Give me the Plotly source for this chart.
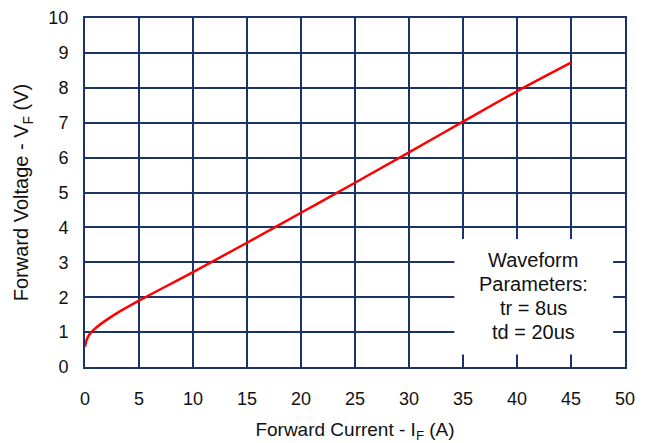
import plotly.graph_objects as go

current_a = [0, 0.1, 0.25, 0.5, 1, 2, 3, 5, 10, 15, 20, 25, 30, 35, 40, 45]
voltage_v = [0.58, 0.72, 0.85, 0.97, 1.12, 1.35, 1.55, 1.9, 2.72, 3.56, 4.42, 5.28, 6.15, 7.03, 7.9, 8.72]
x_ticks = [0, 5, 10, 15, 20, 25, 30, 35, 40, 45, 50]
y_ticks = [0, 1, 2, 3, 4, 5, 6, 7, 8, 9, 10]
note_lines = ["Waveform", "Parameters:", "tr = 8us", "td = 20us"]
note_y = [3.07, 2.37, 1.68, 0.99]

grid = "#1B3468"
font = "Liberation Sans, Arial, sans-serif"

fig = go.Figure()
fig.add_trace(go.Scatter(x=current_a, y=voltage_v, mode="lines",
                         line=dict(color="#FF0000", width=2.5, shape="spline"),
                         showlegend=False, hoverinfo="skip"))

fig.add_shape(type="rect", xref="x", yref="y", x0=34.2, x1=48.9, y0=0.36, y1=3.67,
              fillcolor="white", line=dict(width=0), layer="above")
for txt, yy in zip(note_lines, note_y):
    fig.add_annotation(x=41.5, y=yy, xref="x", yref="y", text=txt, yanchor="middle",
                       showarrow=False, font=dict(family=font, size=20, color="#111111"),
                       align="center")

fig.update_layout(
    width=655, height=443,
    margin=dict(l=85, r=30, t=17.5, b=75.5),
    paper_bgcolor="white", plot_bgcolor="white",
    font=dict(family=font, size=18, color="#111111"),
)
fig.update_xaxes(range=[0, 50], tickvals=x_ticks, showgrid=True, gridcolor=grid, gridwidth=2,
                 showline=True, linecolor=grid, linewidth=2, mirror=True, zeroline=False,
                 ticks="", ticklabelstandoff=14, automargin=False,
                 title=dict(text="Forward Current - I<sub>F</sub> (A)", font=dict(size=19), standoff=16))
fig.update_yaxes(range=[0, 10], tickvals=y_ticks, showgrid=True, gridcolor=grid, gridwidth=2,
                 showline=True, linecolor=grid, linewidth=2, mirror=True, zeroline=False,
                 ticks="", ticklabelstandoff=11, automargin=False,
                 title=dict(text="Forward Voltage - V<sub>F</sub> (V)", font=dict(size=20), standoff=14))

fig.write_html("out.html")
